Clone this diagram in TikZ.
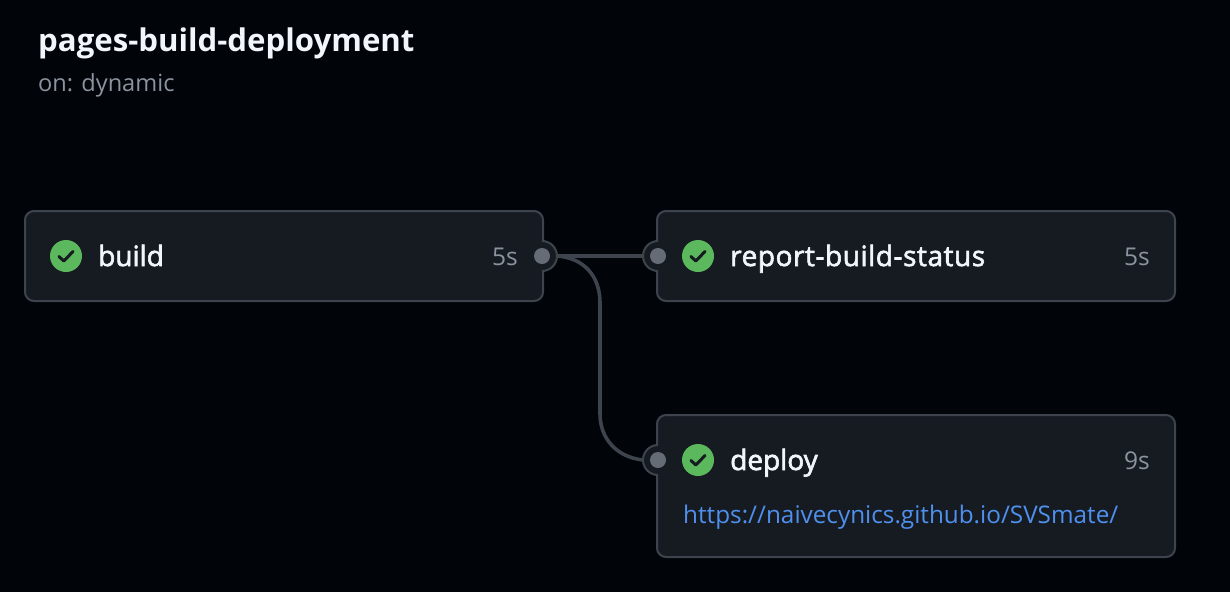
\documentclass[tikz,border=0pt]{standalone}
\usepackage{fontspec}
\setmainfont{Open Sans}
\newfontfamily\medfont[FakeBold=2.2]{Open Sans}
\definecolor{bgc}{HTML}{010409}
\definecolor{boxc}{HTML}{161B22}
\definecolor{edgec}{HTML}{3D444D}
\definecolor{titlec}{HTML}{F0F6FC}
\definecolor{mutedc}{HTML}{8B949E}
\definecolor{linkc}{HTML}{4F90EE}
\definecolor{portc}{HTML}{656C76}
\definecolor{okc}{HTML}{5CB85C}
\definecolor{checkc}{HTML}{161B22}
\tikzset{
  x=1pt,y=-1pt,
  jobbox/.style={draw=edgec,line width=2pt,fill=boxc,rounded corners=9pt},
  ringfill/.style={circle,fill=boxc,minimum size=30pt,inner sep=0pt},
  portdot/.style={circle,fill=portc,minimum size=16pt,inner sep=0pt},
  okdot/.style={circle,fill=okc,minimum size=32pt,inner sep=0pt},
  wire/.style={draw=edgec,line width=3.6pt},
  ringline/.style={draw=edgec,line width=2pt},
  jobname/.style={anchor=base west,inner sep=0pt,text=titlec,font=\medfont\fontsize{28}{30}\selectfont},
  dur/.style={anchor=base east,inner sep=0pt,text=mutedc,font=\fontsize{24.5}{26}\selectfont},
  check/.style={draw=checkc,line width=3pt,line cap=round,line join=round},
}
\begin{document}
\begin{tikzpicture}
\useasboundingbox (0,0) rectangle (1230,592);
\fill[bgc] (0,0) rectangle (1230,592);
\node[anchor=base west,inner sep=0pt,text=titlec,font=\bfseries\fontsize{31.2}{34}\selectfont] (title) at (38,51) {pages-build-deployment};
\node[anchor=base west,inner sep=0pt,text=mutedc,font=\fontsize{23.6}{26}\selectfont] (sub) at (38,91) {on: dynamic};
% wires
\coordinate (o1) at (557,256);
\coordinate (i2) at (643,256);
\coordinate (i3) at (643,460);
\draw[wire] (o1) -- (i2);
\draw[wire] (o1) .. controls (584,258) and (600,276) .. (600,303) -- (600,414) .. controls (600,438) and (616,457) .. (i3);
% boxes
\draw[jobbox] (25,211) rectangle (543,301);
\draw[jobbox] (657,211) rectangle (1175,301);
\draw[jobbox] (657,415) rectangle (1175,557);
% rings
\node[ringfill] (rb) at (542,256) {};
\node[ringfill] (rr) at (658,256) {};
\node[ringfill] (rd) at (658,460) {};
\draw[ringline] (542,241) arc[start angle=90,end angle=-90,radius=15pt];
\draw[ringline] (658,241) arc[start angle=90,end angle=270,radius=15pt];
\draw[ringline] (658,445) arc[start angle=90,end angle=270,radius=15pt];
\node[portdot] (pb) at (542,256) {};
\node[portdot] (pr) at (658,256) {};
\node[portdot] (pd) at (658,460) {};
% status icons
\node[okdot] (ob) at (66,256) {};
\node[okdot] (or) at (698,256) {};
\node[okdot] (od) at (698,460) {};
\foreach \n in {ob,or,od}{
  \draw[check] ([shift={(-7,0.5)}]\n.center) -- ([shift={(-2.2,5)}]\n.center) -- ([shift={(7,-4.5)}]\n.center);
}
% labels
\node[jobname] (lb) at (98,266) {build};
\node[jobname] (lr) at (730,266) {\addfontfeature{LetterSpace=2}report-build-status};
\node[jobname] (ld) at (730,470) {deploy};
\node[dur] (db) at (518,265) {5s};
\node[dur] (dr) at (1150,265) {5s};
\node[dur] (dd) at (1150,469) {9s};
\node[anchor=base west,inner sep=0pt,text=linkc,font=\fontsize{24.3}{26}\selectfont] (url) at (683,523) {https://naivecynics.github.io/SVSmate/};
\end{tikzpicture}
\end{document}
